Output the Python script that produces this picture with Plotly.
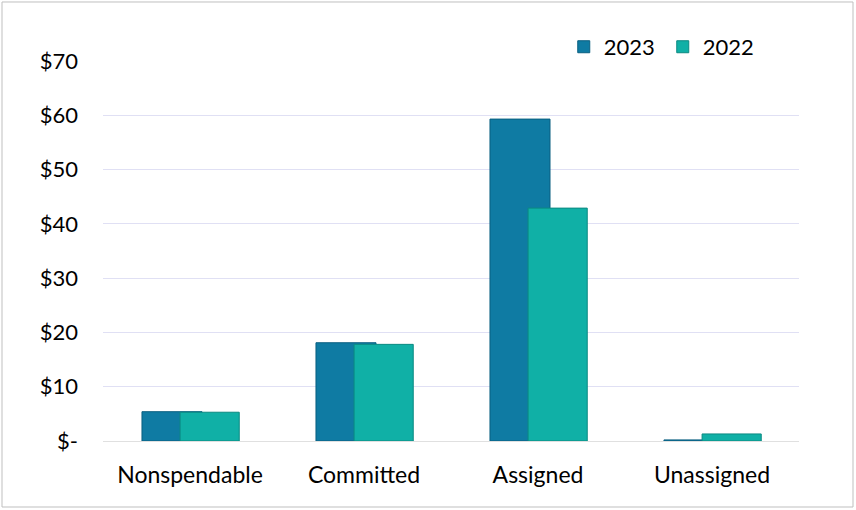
import plotly.graph_objects as go

categories = ["Nonspendable", "Committed", "Assigned", "Unassigned"]
values_2023 = [5.4, 18.1, 59.3, 0.2]
values_2022 = [5.3, 17.8, 42.9, 1.3]
tick_vals = [0, 10, 20, 30, 40, 50, 60, 70]
tick_text = ["$-", "$10", "$20", "$30", "$40", "$50", "$60", "$70"]

font_family = "Lato, Carlito, 'Liberation Sans', sans-serif"

fig = go.Figure()
fig.add_trace(go.Bar(
    name="2023", x=categories, y=values_2023,
    width=0.345, offset=-0.276,
    marker=dict(color="#0f7ba3", line=dict(color="#0a5f80", width=1)),
))
fig.add_trace(go.Bar(
    name="2022", x=categories, y=values_2022,
    width=0.34, offset=-0.057,
    marker=dict(color="#10b0a6", line=dict(color="#0b8a82", width=1)),
))

fig.update_layout(
    width=856, height=510,
    barmode="overlay",
    paper_bgcolor="white", plot_bgcolor="white",
    margin=dict(l=103, r=57, t=61, b=69),
    font=dict(family=font_family, size=22, color="#000000"),
    legend=dict(orientation="h", x=0.662, y=1.037, xanchor="left", yanchor="middle",
                font=dict(size=22), itemwidth=30, traceorder="normal",
                entrywidth=54, entrywidthmode="pixels",
                bgcolor="rgba(0,0,0,0)"),
    xaxis=dict(showgrid=False, showline=True, linecolor="#e0e0e0", linewidth=1,
               ticks="", tickfont=dict(size=23), ticklabelstandoff=13),
    yaxis=dict(range=[0, 70], tickvals=tick_vals, ticktext=tick_text,
               showgrid=True, gridcolor="#e0e0f4", gridwidth=1, zeroline=False,
               showline=False, ticks="", ticklabelstandoff=24, tickfont=dict(size=22)),
    shapes=[dict(type="rect", xref="paper", yref="paper",
                 x0=-0.1451, x1=1.0776, y0=-0.1737, y1=1.1553,
                 line=dict(color="#bfbfbf", width=1), layer="below")],
)

fig.write_html("out.html")
